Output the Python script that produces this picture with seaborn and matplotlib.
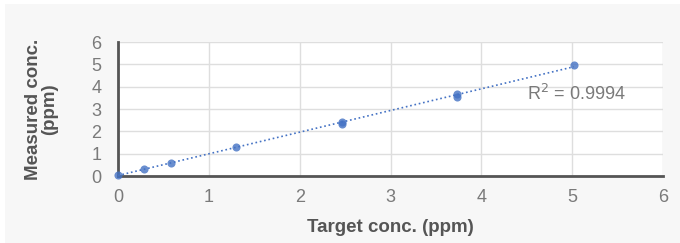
import numpy as np
import pandas as pd
import seaborn as sns
import matplotlib.pyplot as plt
from matplotlib.patches import Rectangle

# calibration points
target = [0.0, 0.29, 0.58, 1.30, 2.47, 2.47, 3.73, 3.73, 5.02]
measured = [0.05, 0.31, 0.60, 1.28, 2.35, 2.43, 3.55, 3.68, 4.96]
r2_text = "R$^2$ = 0.9994"

df = pd.DataFrame({'target': target, 'measured': measured})

sns.set_style('whitegrid')
plt.rcParams['font.family'] = ['Liberation Sans', 'DejaVu Sans']

fig = plt.figure(figsize=(6.8, 2.43), dpi=100, facecolor='white')
fig.patches.append(Rectangle((5 / 680, 0), 675 / 680, 239 / 243, transform=fig.transFigure,
                             facecolor='#f7f7f7', edgecolor='none', zorder=-10))
ax = fig.add_axes([118 / 680, 1 - 176 / 243, 545 / 680, 134 / 243])

blue = '#4472c4'
sns.regplot(data=df, x='target', y='measured', ax=ax, ci=None, truncate=True,
            scatter_kws={'s': 34, 'color': blue, 'zorder': 4, 'linewidths': 0, 'clip_on': False},
            line_kws={'color': blue, 'linestyle': ':', 'linewidth': 1.2, 'zorder': 3})

ax.set_xlim(0, 6)
ax.set_ylim(0, 6)
ax.set_xticks(range(0, 7))
ax.set_yticks(range(0, 7))
ax.grid(True, color='#dedede', linewidth=1)
ax.set_facecolor('white')
for side in ['top', 'right']:
    ax.spines[side].set_visible(False)
for side in ['left', 'bottom']:
    ax.spines[side].set_color('#555555')
    ax.spines[side].set_linewidth(2)
ax.tick_params(axis='both', which='major', length=5, width=2, color='#555555',
               labelcolor='#7a7a7a', labelsize=13, direction='out')
ax.tick_params(axis='x', pad=4)
ax.tick_params(axis='y', pad=7)

ax.set_xlabel('Target conc. (ppm)', fontsize=13.5, fontweight='bold', color='#555555', labelpad=10)
ax.set_ylabel('Measured conc.\n(ppm)', fontsize=13.5, fontweight='bold', color='#555555',
              labelpad=24, linespacing=0.9)
ax.text(4.5, 3.68, r2_text, fontsize=13, color='#7a7a7a', va='center', ha='left')

fig.savefig('out.png', dpi=100, facecolor=fig.get_facecolor())
